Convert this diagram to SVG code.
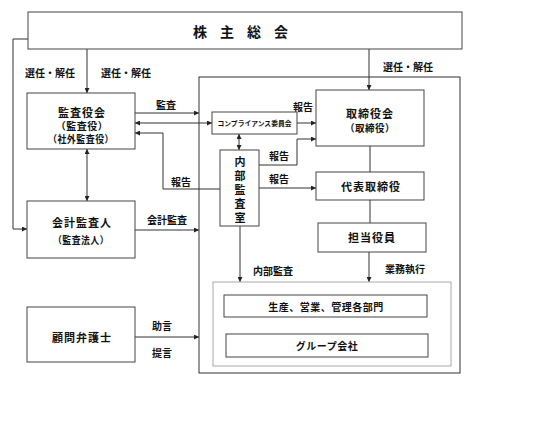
<svg xmlns="http://www.w3.org/2000/svg" width="560" height="423" viewBox="0 0 560 423">
<defs>
<marker id="ah" viewBox="0 0 6 6" refX="6" refY="3" markerWidth="5" markerHeight="5" markerUnits="userSpaceOnUse" orient="auto-start-reverse">
<path d="M0,0 L6,3 L0,6 z" fill="#222"/>
</marker>
<style>
.box{fill:#fff;stroke:#444;stroke-width:1}
.inner{fill:none;stroke:#aaa;stroke-width:1}
.ln{fill:none;stroke:#333;stroke-width:1}
.arr{fill:none;stroke:#333;stroke-width:1;marker-end:url(#ah)}
.dbl{fill:none;stroke:#333;stroke-width:1;marker-end:url(#ah);marker-start:url(#ah)}
text{font-family:"Noto Sans CJK JP","Noto Sans CJK SC",sans-serif;font-weight:bold;fill:#111;text-anchor:middle;dominant-baseline:central}
.t{font-size:11px;letter-spacing:1px}
.s{font-size:10px;letter-spacing:0.5px}
.l{font-size:10px}
</style>
</defs>
<rect width="560" height="423" fill="#fff"/>

<g id="connectors">
<polyline class="arr" points="28,39 13,39 13,229 27,229"/>
<line class="arr" x1="87" y1="49" x2="87" y2="93"/>
<line class="arr" x1="369" y1="49" x2="369" y2="90"/>
<line class="arr" x1="135" y1="113" x2="199" y2="113"/>
<line class="dbl" x1="135" y1="123" x2="212" y2="123"/>
<polyline class="arr" points="220,189 163,189 163,133 135,133"/>
<line class="dbl" x1="239" y1="134" x2="239" y2="150"/>
<line class="arr" x1="297" y1="123" x2="316" y2="123"/>
<polyline class="arr" points="259,165 297,165 297,139 316,139"/>
<line class="arr" x1="259" y1="188" x2="316" y2="188"/>
<line class="ln" x1="370" y1="146" x2="370" y2="172"/>
<line class="ln" x1="370" y1="200" x2="370" y2="223"/>
<line class="arr" x1="369" y1="252" x2="369" y2="282"/>
<line class="arr" x1="240" y1="226" x2="240" y2="282"/>
<line class="dbl" x1="87" y1="149" x2="87" y2="201"/>
<line class="arr" x1="135" y1="230" x2="199" y2="230"/>
<line class="arr" x1="135" y1="337" x2="199" y2="337"/>
</g>

<g id="labels">
<text class="l" x="50" y="72">選任・解任</text>
<text class="l" x="126" y="72">選任・解任</text>
<text class="l" x="408" y="66">選任・解任</text>
<text class="l" x="166" y="104">監査</text>
<text class="l" x="181" y="181">報告</text>
<text class="l" x="303" y="106">報告</text>
<text class="l" x="279" y="155">報告</text>
<text class="l" x="279" y="178">報告</text>
<text class="l" x="167" y="219">会計監査</text>
<text class="l" x="273" y="270">内部監査</text>
<text class="l" x="405" y="268">業務執行</text>
<text class="l" x="162" y="325">助言</text>
<text class="l" x="162" y="352">提言</text>
</g>

<g id="shareholders">
<rect class="box" x="28" y="12" width="434" height="37"/>
<text x="247" y="31" font-size="14" letter-spacing="13">株主総会</text>
</g>

<g id="outer-company">
<rect x="199" y="77" width="261" height="296" fill="none" stroke="#333" stroke-width="1"/>
</g>

<g id="kansayakukai">
<rect class="box" x="27" y="93" width="108" height="56"/>
<text x="82" y="112"><tspan class="t" x="82" y="112">監査役会</tspan><tspan class="s" x="82" y="125">（監査役）</tspan><tspan class="s" x="81" y="138" textLength="66" lengthAdjust="spacingAndGlyphs">（社外監査役）</tspan></text>
</g>

<g id="kaikei">
<rect class="box" x="27" y="201" width="108" height="57"/>
<text x="82" y="222"><tspan class="t" x="82" y="222">会計監査人</tspan><tspan class="s" x="81" y="239" textLength="56" lengthAdjust="spacingAndGlyphs">（監査法人）</tspan></text>
</g>

<g id="bengoshi">
<rect class="box" x="27" y="307" width="108" height="55"/>
<text class="t" x="82" y="337" letter-spacing="1.5">顧問弁護士</text>
</g>

<g id="compliance">
<rect class="box" x="212" y="112" width="85" height="22"/>
<text x="254.5" y="123" font-size="7" textLength="74" lengthAdjust="spacingAndGlyphs">コンプライアンス委員会</text>
</g>

<g id="naibu">
<rect class="box" x="220" y="150" width="39" height="76"/>
<text x="240" y="191" font-size="11" letter-spacing="3" style="writing-mode:vertical-rl;text-orientation:upright">内部監査室</text>
</g>

<g id="torishimariyakukai">
<rect class="box" x="316" y="90" width="108" height="56"/>
<text x="370" y="113"><tspan class="t" x="370" y="113">取締役会</tspan><tspan class="s" x="370" y="127" textLength="50" lengthAdjust="spacingAndGlyphs">（取締役）</tspan></text>
</g>

<g id="daihyo">
<rect class="box" x="316" y="172" width="108" height="28"/>
<text class="t" x="371" y="186">代表取締役</text>
</g>

<g id="tanto">
<rect class="box" x="318" y="223" width="108" height="29"/>
<text class="t" x="372" y="237">担当役員</text>
</g>

<g id="business">
<rect class="inner" x="213" y="282" width="238" height="84"/>
</g>

<g id="bumon">
<rect class="box" x="224" y="295" width="203" height="22"/>
<text class="s" x="326" y="306">生産、営業、管理各部門</text>
</g>

<g id="group">
<rect class="box" x="226" y="334" width="202" height="23"/>
<text class="s" x="327" y="345">グループ会社</text>
</g>
</svg>
